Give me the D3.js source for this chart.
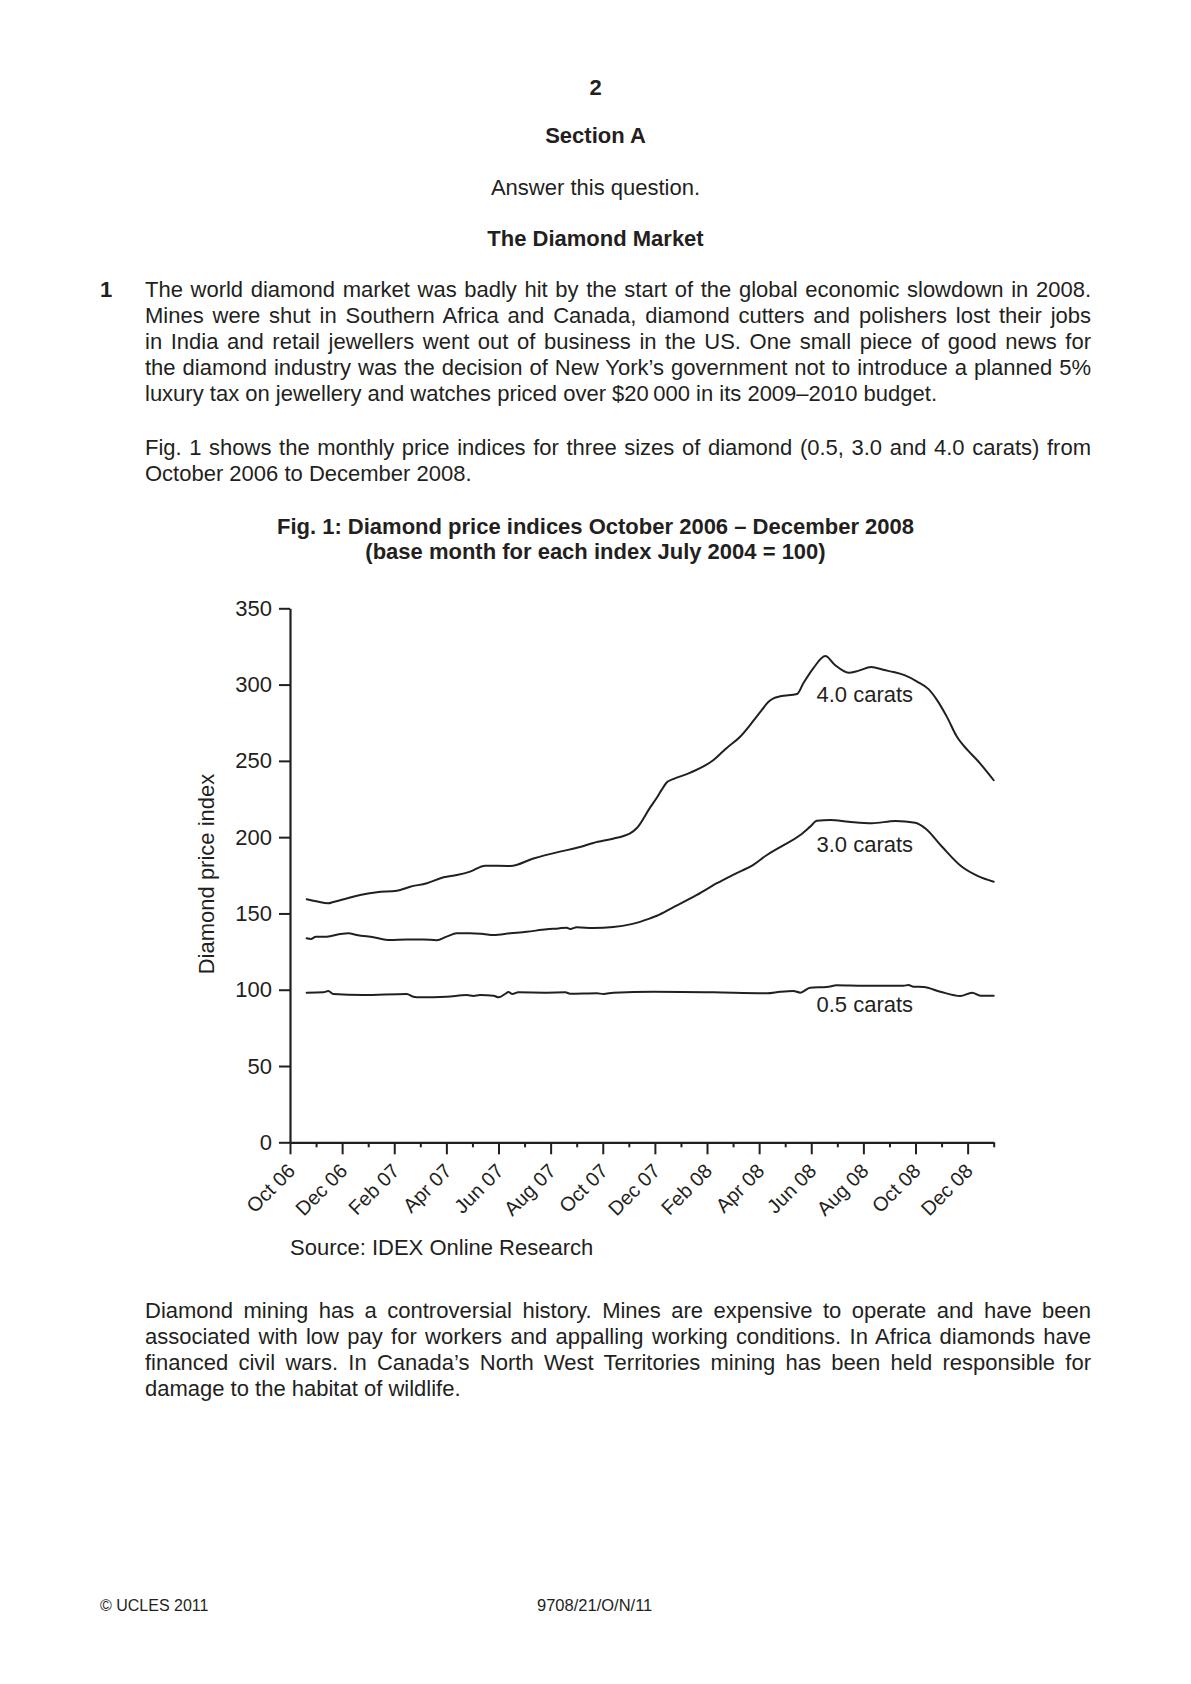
<!DOCTYPE html>
<html>
<head>
<meta charset="utf-8">
<script src="https://cdn.jsdelivr.net/npm/d3@7"></script>
<style>
  html, body { margin: 0; padding: 0; background: #fff; }
  svg { display: block; }
  text { font-family: "Liberation Sans", Arial, Helvetica, sans-serif; fill: #231f20; }
</style>
</head>
<body>
<svg id="page" width="1191" height="1684"></svg>
<script>
// ---------- data ----------
const xTickLabels = ["Oct 06","Dec 06","Feb 07","Apr 07","Jun 07","Aug 07","Oct 07","Dec 07","Feb 08","Apr 08","Jun 08","Aug 08","Oct 08","Dec 08"];
const yTicks = [0, 50, 100, 150, 200, 250, 300, 350];

// month offsets from October 2006 (0 = start of Oct 06)
const carat40Months = [0.64,1.0,1.47,1.66,2.2,2.69,3.33,4.1,4.61,5.25,5.89,6.4,6.91,7.49,8.45,9.34,10.36,11.13,11.64,12.4,12.8,13.05,13.31,13.82,14.08,14.26,14.46,14.7,15.36,16.25,16.63,16.76,17.27,17.79,18.1,18.36,18.55,18.81,19.45,19.7,20.09,20.54,20.9,21.43,21.8,22.3,22.8,23.16,23.6,24.06,24.5,24.82,25.2,25.59,26.0,26.36,27.0];
const carat40Values = [159.3,158,156.6,157.5,160,162.1,163.9,164.9,167.5,169.8,173.7,175.2,177.4,181.3,181.1,186,190.5,193.5,196.2,199,200.8,202.5,206,219.5,226,231,236,238,242.3,250.6,256.5,258.5,265.8,276.5,283.3,288.8,291,292.3,293.8,301,311,318.7,313,307.8,309,311.5,309.5,308.2,306,302,297,290,279,265.8,257,250.6,237.3];

const carat30Months = [0.64,0.8,0.99,1.41,1.92,2.24,2.56,3.2,3.84,4.48,5.12,5.63,6.01,6.4,6.91,7.42,7.81,8.45,9.08,9.85,10.3,10.62,10.75,11.0,11.64,12.4,13.1,13.82,14.08,14.65,15.61,16.38,17.02,17.79,18.3,18.81,19.58,19.96,20.22,20.73,21.43,22.33,23.22,23.99,24.37,25.02,25.78,26.4,27.0];
const carat30Values = [133.7,133.2,134.8,134.8,136.5,137,135.9,134.4,132.6,133,133,132.4,134.8,137,137,136.5,135.9,137,138,139.6,140.2,140.7,139.8,140.9,140.5,141.1,143,146.8,148.5,153.5,162.1,169.8,175.5,182,188.3,193.5,201.4,206.9,210.8,211.2,210.1,209.1,210.6,209.5,205.8,193.7,180.6,174.5,170.8];

const carat05Months = [0.64,1.28,1.47,1.66,2.81,4.48,4.73,4.99,6.01,6.78,7.04,7.29,7.81,8.0,8.25,8.38,8.53,8.76,9.85,10.56,10.75,11.77,12.03,12.41,13.95,16.25,18.3,18.81,19.31,19.58,19.96,20.6,20.98,22.0,23.54,23.73,23.92,24.31,24.95,25.72,26.17,26.49,27.0];
const carat05Values = [98.1,98.3,99.2,97.2,96.5,97.2,95.4,95,95.4,96.5,95.9,96.5,96.1,95,97.2,98.5,97.2,98.3,98.1,98.3,97.4,97.7,97.2,98.1,98.7,98.3,97.7,98.7,99.2,98.1,101.3,101.8,102.9,102.6,102.6,103.1,102,101.8,98.7,95.9,98.1,96.1,96.1];

const seriesLabels = ["4.0 carats", "3.0 carats", "0.5 carats"];

// ---------- page text ----------
const para1 = [
  "The world diamond market was badly hit by the start of the global economic slowdown in 2008.",
  "Mines were shut in Southern Africa and Canada, diamond cutters and polishers lost their jobs",
  "in India and retail jewellers went out of business in the US. One small piece of good news for",
  "the diamond industry was the decision of New York\u2019s government not to introduce a planned 5%",
  "luxury tax on jewellery and watches priced over $20\u2009000 in its 2009\u20132010 budget."
];
const para2 = [
  "Fig. 1 shows the monthly price indices for three sizes of diamond (0.5, 3.0 and 4.0 carats) from",
  "October 2006 to December 2008."
];
const para3 = [
  "Diamond mining has a controversial history. Mines are expensive to operate and have been",
  "associated with low pay for workers and appalling working conditions. In Africa diamonds have",
  "financed civil wars. In Canada\u2019s North West Territories mining has been held responsible for",
  "damage to the habitat of wildlife."
];

const svg = d3.select("#page");
const FS = 22;
const INK = "#231f20";

function centered(txt, y, bold) {
  svg.append("text").attr("x", 595.5).attr("y", y).attr("text-anchor", "middle")
    .attr("font-size", FS).attr("font-weight", bold ? "bold" : "normal").text(txt);
}
centered("2", 95, true);
centered("Section A", 143, true);
centered("Answer this question.", 195, false);
centered("The Diamond Market", 245.5, true);

svg.append("text").attr("x", 100).attr("y", 297).attr("font-size", FS).attr("font-weight", "bold").text("1");

function paragraph(lines, y0, lh, x0, x1) {
  lines.forEach((ln, i) => {
    const t = svg.append("text").attr("x", x0).attr("y", y0 + i * lh).attr("font-size", FS).text(ln);
    if (i < lines.length - 1) {
      const nat = t.node().getComputedTextLength();
      const spaces = (ln.match(/ /g) || []).length;
      if (spaces > 0) t.attr("word-spacing", (x1 - x0 - nat) / spaces);
    }
  });
}
paragraph(para1, 297, 26, 145, 1091);
paragraph(para2, 455, 26, 145, 1091);
paragraph(para3, 1318, 26, 145, 1091);

// Figure title
centered("Fig. 1: Diamond price indices October 2006 \u2013 December 2008", 533.5, true);
centered("(base month for each index July 2004 = 100)", 559, true);

// ---------- chart ----------
const x = d3.scaleLinear().domain([0, 27]).range([290, 993.7]);
const y = d3.scaleLinear().domain([0, 350]).range([1142.3, 608.3]);

const chart = svg.append("g");

const yAxis = d3.axisLeft(y).tickValues(yTicks).tickSize(11).tickPadding(7).tickSizeOuter(0);
const gy = chart.append("g").attr("transform", `translate(${x(0)},0)`).call(yAxis);
gy.select(".domain").attr("stroke", INK).attr("stroke-width", 2.2);
gy.selectAll(".tick line").attr("stroke", INK).attr("stroke-width", 2);
gy.selectAll(".tick text").attr("font-size", FS).attr("fill", INK)
  .attr("font-family", "'Liberation Sans', Arial, sans-serif");

const majorMonths = xTickLabels.map((_, i) => i * 2);
const minorMonths = d3.range(1, 28, 2);
const xAxisMajor = d3.axisBottom(x).tickValues(majorMonths).tickSize(12).tickSizeOuter(0)
  .tickFormat((d, i) => xTickLabels[i]);
const gx = chart.append("g").attr("transform", `translate(0,${y(0)})`).call(xAxisMajor);
gx.select(".domain").attr("stroke", INK).attr("stroke-width", 2.2);
gx.selectAll(".tick line").attr("stroke", INK).attr("stroke-width", 2);
gx.selectAll(".tick text").attr("font-size", 20).attr("fill", INK)
  .attr("font-family", "'Liberation Sans', Arial, sans-serif")
  .attr("text-anchor", "end").attr("x", 0).attr("y", 0).attr("dy", "0.35em")
  .attr("transform", "translate(1,25) rotate(-45)");

const xAxisMinor = d3.axisBottom(x).tickValues(minorMonths).tickSize(5).tickSizeOuter(0).tickFormat("");
const gx2 = chart.append("g").attr("transform", `translate(0,${y(0)})`).call(xAxisMinor);
gx2.select(".domain").remove();
gx2.selectAll(".tick line").attr("stroke", INK).attr("stroke-width", 2);

// y axis title
svg.append("text").attr("transform", `translate(214,874) rotate(-90)`)
  .attr("text-anchor", "middle").attr("font-size", FS).text("Diamond price index");

// lines
const line = d3.line().x(d => x(d[0])).y(d => y(d[1])).curve(d3.curveMonotoneX);
const series = [
  d3.zip(carat40Months, carat40Values),
  d3.zip(carat30Months, carat30Values),
  d3.zip(carat05Months, carat05Values)
];
chart.selectAll("path.series").data(series).join("path")
  .attr("class", "series")
  .attr("d", line)
  .attr("fill", "none").attr("stroke", INK).attr("stroke-width", 2)
  .attr("stroke-linejoin", "round").attr("stroke-linecap", "round");

// series labels (anchored in data space)
const labelPos = [[20.2, 288.5], [20.2, 190], [20.2, 85.5]];
chart.selectAll("text.slabel").data(seriesLabels).join("text")
  .attr("class", "slabel")
  .attr("x", (d, i) => x(labelPos[i][0]))
  .attr("y", (d, i) => y(labelPos[i][1]))
  .attr("font-size", 22).text(d => d);

// source
svg.append("text").attr("x", 290).attr("y", 1255).attr("font-size", FS).text("Source: IDEX Online Research");

// footer
svg.append("text").attr("x", 100).attr("y", 1611).attr("font-size", 16).text("\u00a9 UCLES 2011");
svg.append("text").attr("x", 537).attr("y", 1611).attr("font-size", 16.5).text("9708/21/O/N/11");
</script>
</body>
</html>
